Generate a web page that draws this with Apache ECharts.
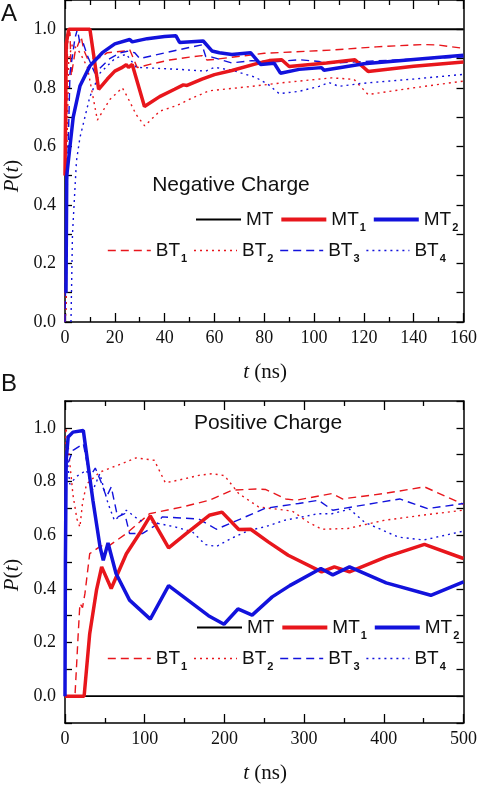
<!DOCTYPE html>
<html><head><meta charset="utf-8">
<script src="https://cdn.jsdelivr.net/npm/echarts@6/dist/echarts.min.js"></script>
<style>html,body{margin:0;padding:0;background:#fff}#c{width:480px;height:787px}</style>
</head><body><div id="c"></div>
<script>
// ---------- Panel A: Negative Charge (t in ns, P(t)) ----------
const negMT  = [[0,1],[160,1]];
const negMT1 = [[0,0.5],[0.5,0.95],[1.5,1.0],[10,1.0],[13.5,0.795],[17,0.83],[20,0.857],[22.6,0.868],[24.6,0.879],[25.5,0.87],[27,0.88],[31.9,0.736],[38,0.77],[44,0.795],[47.5,0.81],[49,0.808],[55,0.83],[60,0.845],[67,0.859],[78,0.885],[82,0.893],[87,0.896],[90,0.873],[105,0.885],[116.4,0.896],[121.7,0.856],[140,0.874],[160,0.888]];
const negMT2 = [[0.4,0.1],[0.7,0.5],[2,0.6],[3.3,0.7],[6,0.806],[10,0.875],[15,0.92],[20,0.95],[26,0.965],[27,0.957],[33,0.968],[40,0.975],[44.5,0.978],[46,0.955],[55.5,0.96],[59,0.926],[62,0.92],[67,0.914],[74.5,0.92],[78.5,0.88],[84,0.884],[86.5,0.85],[94,0.863],[103,0.869],[104,0.86],[120,0.882],[140,0.897],[160,0.911]];
const negBT1 = [[0,0],[0.5,0.5],[1,0.95],[2,0.99],[2.5,0.84],[4,0.92],[6.5,0.975],[7.5,0.93],[9,0.9],[14,0.903],[17,0.92],[24.6,0.926],[26,0.93],[29,0.869],[34,0.88],[42,0.895],[50,0.905],[55,0.91],[57,0.895],[60,0.897],[80,0.918],[107,0.929],[125,0.94],[144,0.948],[150,0.946],[160,0.935]];
const negBT2 = [[0,0],[0.5,0.05],[0.8,0.6],[1.5,0.9],[3,0.95],[6,0.92],[9,0.87],[13,0.69],[18,0.76],[23,0.80],[25,0.77],[28.6,0.708],[32,0.67],[38,0.72],[45,0.74],[51,0.765],[58,0.79],[74,0.804],[87,0.817],[107,0.834],[116,0.829],[121.7,0.777],[140,0.80],[160,0.823]];
const negBT3 = [[0,0],[1,0.5],[2,0.85],[4,0.97],[5,1.0],[6,0.95],[7.3,0.953],[9,0.91],[12,0.85],[18,0.9],[22,0.919],[25,0.925],[28,0.92],[30,0.90],[43,0.925],[55,0.947],[56.5,0.907],[59,0.905],[67,0.885],[75,0.893],[84,0.889],[94,0.896],[102,0.89],[104,0.883],[120,0.89],[140,0.898],[160,0.905]];
const negBT4 = [[2.4,0],[3,0.3],[4.6,0.55],[6,0.63],[10,0.77],[14,0.85],[20,0.9],[24.6,0.915],[28.6,0.87],[46,0.863],[56.5,0.857],[60,0.87],[67,0.86],[76.5,0.836],[81.8,0.81],[86,0.78],[94,0.788],[102,0.805],[106,0.818],[110,0.805],[119,0.815],[140,0.83],[160,0.846]];

// ---------- Panel B: Positive Charge ----------
const posMT  = [[0,0],[500,0]];
const posMT1 = [[0,0],[24,0],[31,0.233],[39.5,0.395],[46,0.482],[58,0.401],[77,0.531],[93.5,0.606],[107,0.672],[130,0.553],[152,0.606],[181,0.674],[197,0.686],[218,0.621],[233,0.622],[255,0.575],[280,0.525],[322,0.463],[338,0.482],[357,0.463],[403,0.519],[451,0.566],[500,0.513]];
const posMT2 = [[0,0],[0.5,0.5],[1.5,0.88],[4,0.966],[10,0.984],[23,0.99],[35,0.73],[44,0.556],[48,0.506],[54,0.571],[64,0.457],[81,0.358],[107,0.287],[130,0.412],[160,0.345],[180,0.3],[199.5,0.268],[217,0.325],[234.8,0.302],[260,0.37],[282,0.412],[321,0.476],[336,0.452],[357,0.482],[403,0.422],[459,0.376],[500,0.426]];
const posBT1 = [[0,0],[12.5,0],[16.6,0.233],[18.7,0.345],[22,0.33],[25,0.382],[31,0.531],[37.4,0.544],[45,0.56],[55,0.56],[77,0.606],[106,0.68],[147,0.705],[181,0.73],[210,0.768],[240,0.772],[252,0.77],[277,0.735],[290,0.73],[335,0.755],[348,0.735],[400,0.755],[451,0.78],[500,0.715]];
const posBT2 = [[0,0],[0.5,0.7],[1,1.0],[3,0.97],[5,0.9],[10,0.75],[15,0.66],[18.7,0.63],[22,0.72],[27,0.79],[43.6,0.835],[77,0.873],[89,0.888],[112,0.879],[126,0.795],[150,0.81],[168,0.823],[185,0.829],[200,0.822],[218,0.755],[243,0.705],[285,0.69],[305,0.649],[322,0.622],[355,0.625],[400,0.655],[450,0.675],[500,0.693]];
const posBT3 = [[0,0],[0.5,0.6],[1.5,0.85],[10,0.916],[23,0.941],[31,0.817],[38,0.85],[45,0.8],[52,0.742],[58,0.78],[66,0.668],[75,0.68],[81,0.606],[97,0.606],[114,0.637],[122,0.668],[140,0.665],[168,0.66],[190,0.622],[220,0.66],[251,0.7],[293,0.718],[318,0.73],[336,0.693],[370,0.71],[420,0.735],[455,0.699],[500,0.718]];
const posBT4 = [[0,0],[0.7,0.65],[2,0.9],[4,0.85],[6,0.79],[15,0.82],[27,0.842],[35,0.767],[43.6,0.829],[54,0.718],[62,0.655],[77,0.693],[93.5,0.655],[118,0.643],[139,0.63],[160,0.612],[176,0.565],[190,0.558],[210,0.59],[231,0.618],[252,0.632],[275,0.655],[318,0.68],[335,0.68],[357,0.697],[376,0.648],[418,0.593],[450,0.582],[500,0.615]];

// axis ranges / ticks
const negX = {min:0, max:160, interval:20};
const posX = {min:0, max:500, interval:100};
const negY = {min:0, max:1.1, interval:0.1};
const posY = {min:-0.1, max:1.1, interval:0.1};

const RED = '#e8161c', BLUE = '#1212dc', BLACK = '#000';
const SERIF = "'Liberation Serif','Times New Roman',serif";
const SANS = "'Liberation Sans',Arial,sans-serif";

function xAx(grid, r, pos, labels) {
  return {type:'value', gridIndex:grid, position:pos, min:r.min, max:r.max, interval:r.interval,
    axisLine:{show:true, onZero:false, lineStyle:{color:BLACK, width:1.5}},
    axisTick:{show:true, inside:true, length:9, lineStyle:{color:BLACK, width:1.3}},
    minorTick:{show:true, splitNumber:2, length:5, lineStyle:{color:BLACK, width:1.3}},
    splitLine:{show:false}, minorSplitLine:{show:false},
    axisLabel:{show:labels, margin:7, color:'#111', fontFamily:SERIF, fontSize:18}};
}
function yAx(grid, r, pos, labels) {
  return {type:'value', gridIndex:grid, position:pos, min:r.min, max:r.max, interval:r.interval,
    axisLine:{show:true, onZero:false, lineStyle:{color:BLACK, width:1.5}},
    axisTick:{show:true, inside:true, length:7, lineStyle:{color:BLACK, width:1.3}},
    splitLine:{show:false},
    axisLabel:{show:labels, margin:9, color:'#111', fontFamily:SERIF, fontSize:18,
      formatter: v => { const k = Math.round(v*10); return (k>=0 && k<=10 && k%2===0) ? (k/10).toFixed(1) : ''; }}};
}
function ln(name, data, xi, yi, color, width, type, z) {
  return {type:'line', name, data, xAxisIndex:xi, yAxisIndex:yi, symbol:'none', showSymbol:false,
    clip:true, z, lineStyle:{color, width, type}, itemStyle:{color}, emphasis:{disabled:true}};
}
const DASH = [8,5], DOT = [2,4];
function panelSeries(xi, yi, d) {
  return [
    ln('BT1', d[3], xi, yi, RED, 1.4, DASH, 2),
    ln('BT2', d[4], xi, yi, RED, 1.4, DOT, 2),
    ln('BT3', d[5], xi, yi, BLUE, 1.4, DASH, 2),
    ln('BT4', d[6], xi, yi, BLUE, 1.4, DOT, 2),
    ln('MT',  d[0], xi, yi, BLACK, 1.8, 'solid', 3),
    ln('MT1', d[1], xi, yi, RED, 3.5, 'solid', 4),
    ln('MT2', d[2], xi, yi, BLUE, 3.5, 'solid', 5)
  ];
}
const legWidth = {MT:2, MT1:3.8, MT2:3.8, BT1:1.6, BT2:1.6, BT3:1.6, BT4:1.6};
const legRich = {
  n:{fontFamily:SANS, fontSize:19, color:'#111', lineHeight:28, verticalAlign:'middle'},
  s:{fontFamily:SANS, fontSize:11, fontWeight:'bold', color:'#111', lineHeight:10, verticalAlign:'bottom', padding:[0,0,0,1]}
};
function leg(names, left, top, w) {
  return {data:names.map(nm => ({name:nm, lineStyle:{width:legWidth[nm]}})), left, top, orient:'horizontal', padding:0, itemGap:6, itemWidth:w, itemHeight:14,
    selectedMode:false,
    itemStyle:{color:'rgba(0,0,0,0)', borderWidth:0, opacity:0},
    formatter: nm => nm==='MT' ? '{n|MT}' : '{n|'+nm.slice(0,2)+'}{s|'+nm.slice(2)+'}',
    textStyle:{rich:legRich}};
}
function txt(x, y, text, font, rot, rich) {
  return {type:'text', x, y, rotation:rot||0, z:100,
    style:{text, font, fill:'#111', align:'center', verticalAlign:'middle', textAlign:'center', textVerticalAlign:'middle', rich:rich||undefined}};
}
const itRich = {i:{fontStyle:'italic', fontFamily:SERIF, fontSize:21, fill:'#111', color:'#111'}};

const chart = echarts.init(document.getElementById('c'));
chart.setOption({
  animation:false,
  backgroundColor:'#fff',
  grid:[{left:65, top:-1, width:401, height:323}, {left:65, top:401, width:401, height:322}],
  xAxis:[xAx(0,negX,'bottom',true), xAx(0,negX,'top',false), xAx(1,posX,'bottom',true), xAx(1,posX,'top',false)],
  yAxis:[yAx(0,negY,'left',true), yAx(0,negY,'right',false), yAx(1,posY,'left',true), yAx(1,posY,'right',false)],
  legend:[leg(['MT','MT1','MT2'],195,210,45), leg(['BT1','BT2','BT3','BT4'],107,241,43),
          leg(['MT','MT1','MT2'],196,618,45), leg(['BT1','BT2','BT3','BT4'],107,649,43)],
  series:[...panelSeries(0,0,[negMT,negMT1,negMT2,negBT1,negBT2,negBT3,negBT4]),
          ...panelSeries(2,2,[posMT,posMT1,posMT2,posBT1,posBT2,posBT3,posBT4])],
  graphic:[
    txt(9, 14, 'A', '24px '+SANS),
    txt(9, 384, 'B', '24px '+SANS),
    txt(231, 185, 'Negative Charge', '21px '+SANS),
    txt(268, 423, 'Positive Charge', '21px '+SANS),
    txt(12, 176, '{i|P}({i|t})', '21px '+SERIF, Math.PI/2, itRich),
    txt(12, 575, '{i|P}({i|t})', '21px '+SERIF, Math.PI/2, itRich),
    txt(265, 372, '{i|t} (ns)', '21px '+SERIF, 0, itRich),
    txt(265, 773, '{i|t} (ns)', '21px '+SERIF, 0, itRich)
  ]
});
</script></body></html>
